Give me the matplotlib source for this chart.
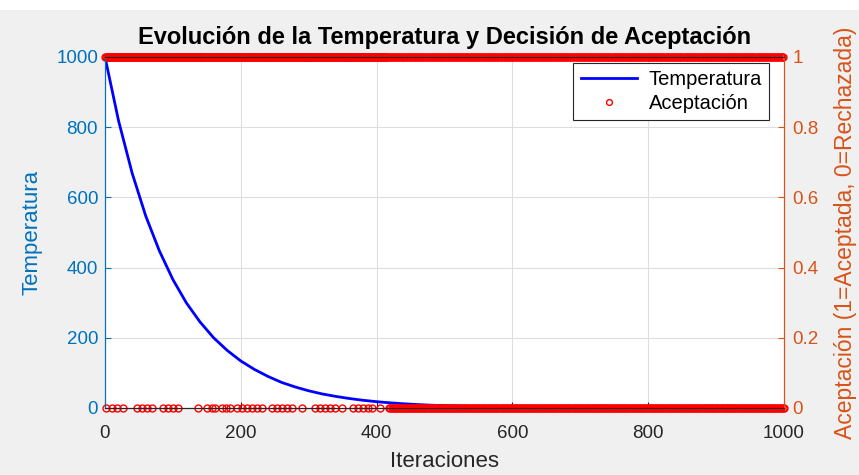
import matplotlib
matplotlib.use("Agg")
import matplotlib.pyplot as plt
from matplotlib.lines import Line2D
import numpy as np

# Temperature (iteration, value)
temp_iter = [0, 20, 40, 60, 80, 100, 120, 140, 160, 180, 200, 220, 240, 260, 280,
             300, 320, 340, 360, 380, 400, 420, 440, 460, 480, 500, 550, 600, 700,
             800, 900, 1000]
temp_vals = [1000, 818, 669, 547, 448, 366, 299, 245, 200, 164, 134, 110, 90, 73, 60,
             49, 40, 33, 27, 22, 18, 14.7, 12, 9.8, 8, 6.6, 4.0, 2.4, 0.9,
             0.3, 0.1, 0.04]

# Rejected iterations (acceptance = 0), read from the bottom row
rejected_sparse = [2, 10, 17, 27, 47, 54, 62, 69, 85, 93, 100, 108, 137, 150, 158, 162,
                   172, 178, 184, 194, 202, 209, 216, 224, 231, 246, 253, 261, 268, 275,
                   290, 309, 317, 324, 331, 339, 349, 365, 373, 380, 387, 393, 405]
# Dense rejection band (start, end, spacing) seen as continuous row of markers
rejected_dense = [(418, 1000, 2)]

n_iter = 1000

blue = '#0072BD'
orange = '#D95319'
dark = '#262626'

plt.rcParams['font.family'] = ['Liberation Sans', 'DejaVu Sans']

fig = plt.figure(figsize=(8.59, 4.75), dpi=100)
fig.patch.set_facecolor('#f0f0f0')
fig.patches.append(plt.Rectangle((0, 1 - 10 / 475), 1, 10 / 475, transform=fig.transFigure,
                                 facecolor='white', edgecolor='none', zorder=0))

ax = fig.add_axes([105 / 859, 67 / 475, 679 / 859, 351 / 475])
ax2 = ax.twinx()

iters = np.arange(0, n_iter + 1)
acc = np.ones_like(iters, dtype=float)
for r in rejected_sparse:
    acc[r] = 0
for s, e, st in rejected_dense:
    acc[s:e + 1:st] = 0

line, = ax.plot(temp_iter, temp_vals, color='blue', lw=2, label='Temperatura')
pts, = ax2.plot(iters, acc, 'o', mfc='none', mec='red', ms=5, mew=1,
                clip_on=False, label='Aceptación')

ax.set_xlim(0, 1000)
ax.set_ylim(0, 1000)
ax2.set_ylim(0, 1)
ax.set_xticks(range(0, 1001, 200))
ax.set_yticks(range(0, 1001, 200))
ax2.set_yticks([0, 0.2, 0.4, 0.6, 0.8, 1])
ax2.set_yticklabels(['0', '0.2', '0.4', '0.6', '0.8', '1'])

ax.grid(True, color='#dedede', lw=0.8)
ax.set_axisbelow(True)

ts = 13.5
ax.tick_params(axis='x', colors=dark, labelsize=ts, direction='in', length=4, top=False, pad=12)
ax.tick_params(axis='y', colors=blue, labelsize=ts, direction='in', length=4, pad=5)
ax2.tick_params(axis='y', colors=orange, labelsize=ts, direction='in', length=4, pad=6)

for sp in ['top', 'bottom']:
    ax2.spines[sp].set_color(dark)
ax2.spines['left'].set_color(blue)
ax2.spines['right'].set_color(orange)
ax.spines['left'].set_color(blue)
ax.spines['right'].set_color(orange)
ax.spines['bottom'].set_color(dark)
ax.spines['top'].set_color(dark)
for a in (ax, ax2):
    for sp in a.spines.values():
        sp.set_linewidth(0.8)

ax.set_xlabel('Iteraciones', fontsize=16, color=dark, labelpad=7)
ax.set_ylabel('Temperatura', fontsize=16, color=blue, labelpad=10)
ax2.set_ylabel('Aceptación (1=Aceptada, 0=Rechazada)', fontsize=16.5, color=orange,
               rotation=90, labelpad=11)
ax.set_title('Evolución de la Temperatura y Decisión de Aceptación',
             fontsize=17, fontweight='bold', color='black', pad=9)

leg_pts = Line2D([], [], marker='o', ls='none', mfc='none', mec='red', ms=4.2, mew=1)
leg = ax2.legend([line, leg_pts], ['Temperatura', 'Aceptación'], loc='upper right',
                 bbox_to_anchor=(0.9785, 0.983), fontsize=14.5, frameon=True, fancybox=False,
                 edgecolor=dark, framealpha=1, handlelength=2.8, borderpad=0.35,
                 labelspacing=0.25, handletextpad=0.6, borderaxespad=0)
leg.get_frame().set_linewidth(0.8)

fig.savefig('out.png', dpi=100, facecolor=fig.get_facecolor())
